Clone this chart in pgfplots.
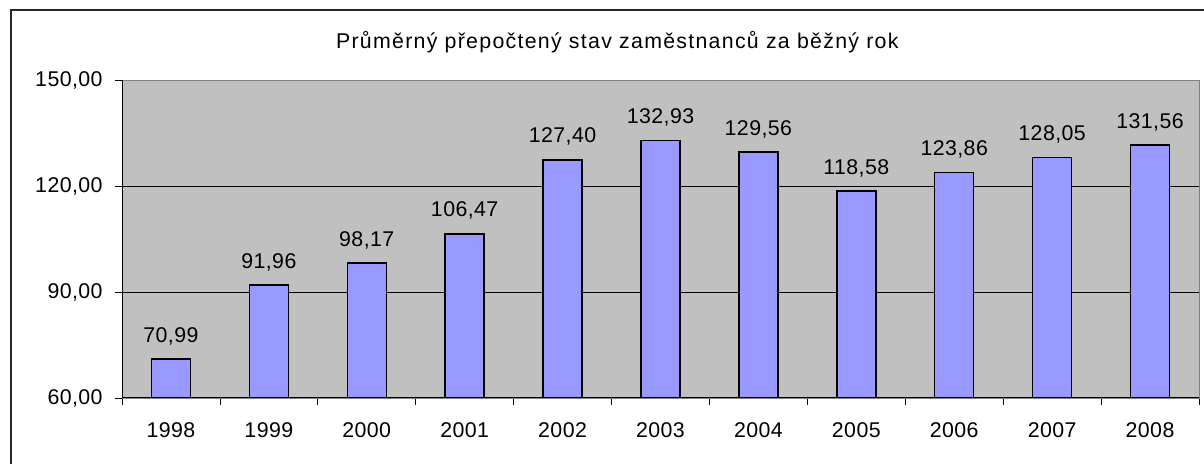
\documentclass[border=0pt]{standalone}
\usepackage{fontspec}
\setmainfont{Liberation Sans}
\newfontfamily\titlefont[LetterSpace=6]{Liberation Sans}
\newfontfamily\numfont[LetterSpace=2]{Liberation Sans}
\usepackage{pgfplots}
\pgfplotsset{compat=1.18}
\definecolor{plotbg}{RGB}{192,192,192}
\definecolor{barfill}{RGB}{153,153,255}
\definecolor{edgegray}{RGB}{128,128,128}
\newcommand{\lblfont}{\numfont\fontsize{16}{19}\selectfont}

\begin{document}
\begin{tikzpicture}
\useasboundingbox (0,0) rectangle (903pt,348pt);
\draw[line width=0.9pt, black!85] (8.25pt,0) -- (8.25pt,340.5pt) -- (903pt,340.5pt);
\node[font=\titlefont\fontsize{16}{19}\selectfont] at (463pt,316.5pt)
  {Průměrný přepočtený stav zaměstnanců za běžný rok};
\begin{axis}[
  at={(91.5pt,49.5pt)}, anchor=south west,
  scale only axis, width=807.75pt, height=238.5pt,
  xmin=-0.5, xmax=10.5, ymin=60, ymax=150,
  ytick={60,90,120,150},
  xtick={0,...,10},
  xticklabels={1998,1999,2000,2001,2002,2003,2004,2005,2006,2007,2008},
  minor xtick={-0.5,0.5,...,10.5},
  major x tick style={draw=none},
  xtick pos=lower, ytick pos=left,
  tick align=outside, major tick length=5pt, minor tick length=5pt,
  tick style={black, line width=0.6pt},
  axis background/.style={fill=plotbg},
  ymajorgrids, grid style={black, line width=0.6pt},
  axis line style={draw=edgegray, line width=0.6pt},
  /pgf/number format/.cd, fixed, zerofill, precision=2, use comma,
    1000 sep={}, assume math mode=true,
  /pgfplots/.cd,
  ticklabel style={font=\lblfont},
  yticklabel style={anchor=east, xshift=-6pt},
  xticklabel style={anchor=base, yshift=-25pt},
  ybar, bar width=29.25pt,
  nodes near coords,
  every node near coord/.append style={font=\lblfont,
    anchor=base, inner sep=0pt, yshift=12.75pt},
]
\addplot[draw=black, fill=barfill, line width=1.1pt] coordinates {
  (0,70.99) (1,91.96) (2,98.17) (3,106.47) (4,127.40) (5,132.93)
  (6,129.56) (7,118.58) (8,123.86) (9,128.05) (10,131.56) };
\draw[black, line width=0.9pt] (rel axis cs:0,1) -- (rel axis cs:0,0) -- (rel axis cs:1,0);
\end{axis}
\end{tikzpicture}
\end{document}
